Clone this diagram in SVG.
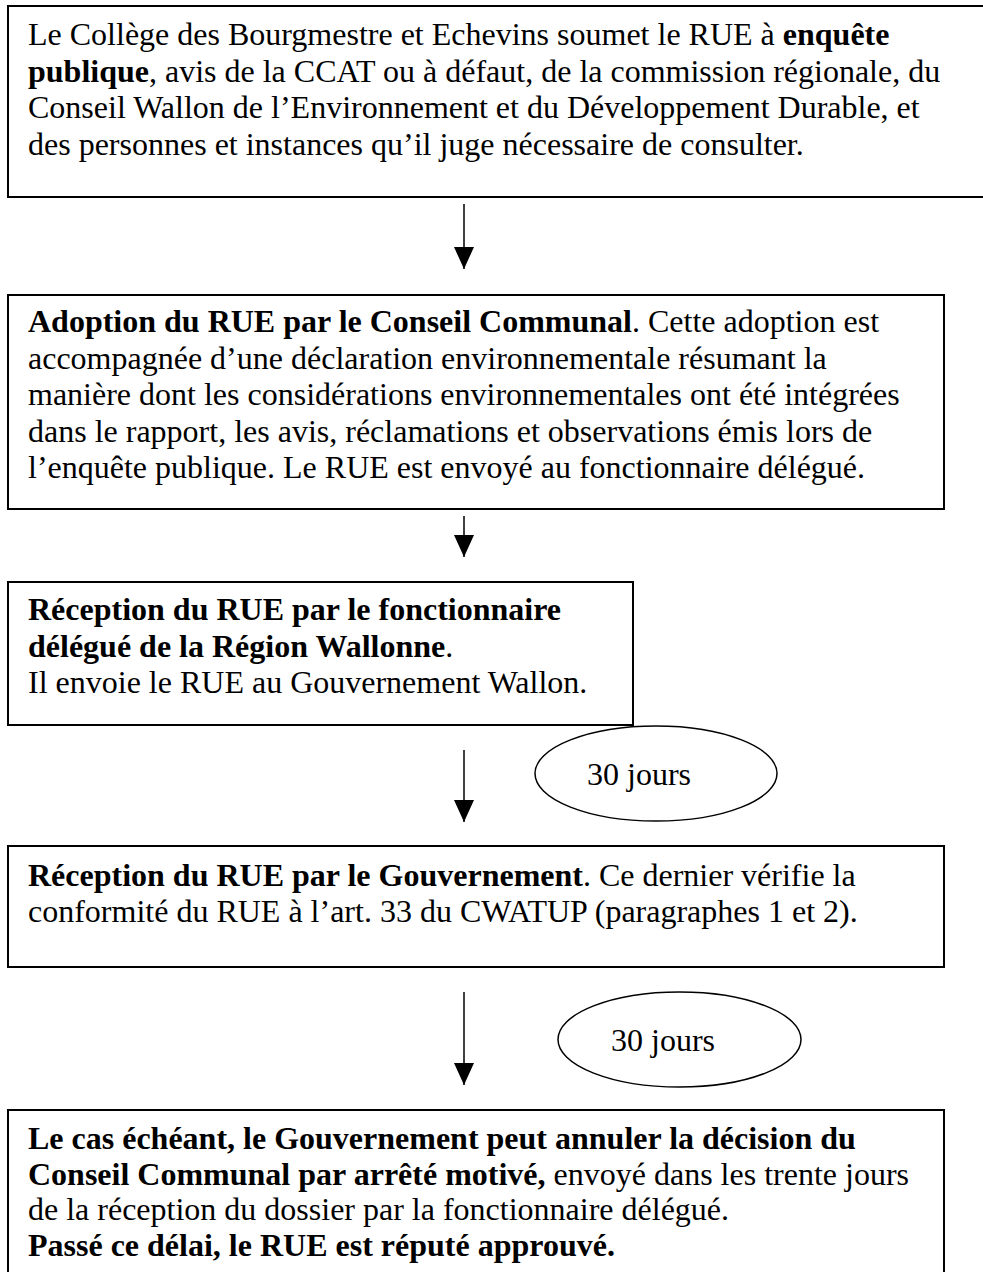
<svg xmlns="http://www.w3.org/2000/svg" width="983" height="1272" viewBox="0 0 983 1272">
<style>
.box{fill:#fff;stroke:#000;stroke-width:2}
.oval{fill:#fff;stroke:#000;stroke-width:1.5}
.t{font-family:"Liberation Serif","Times New Roman",serif;font-size:32px;fill:#000}
.b{font-weight:bold}
.c{stroke:#000;stroke-width:1.5;fill:none;marker-end:url(#ah)}
</style>
<defs>
<marker id="ah" markerUnits="userSpaceOnUse" markerWidth="22" markerHeight="20" refX="22" refY="10" orient="auto">
<path d="M0,0 L22,10 L0,20 z" fill="#000"/>
</marker>
</defs>
<rect width="983" height="1272" fill="#fff"/>
<g id="n1">
<rect class="box" x="8" y="6" width="990" height="191"/>
<text class="t" x="28" y="45">Le Collège des Bourgmestre et Echevins soumet le RUE à <tspan class="b">enquête</tspan></text>
<text class="t" x="28" y="82"><tspan class="b">publique</tspan>, avis de la CCAT ou à défaut, de la commission régionale, du</text>
<text class="t" x="28" y="118">Conseil Wallon de l’Environnement et du Développement Durable, et</text>
<text class="t" x="28" y="155">des personnes et instances qu’il juge nécessaire de consulter.</text>
</g>
<g id="n2">
<rect class="box" x="8" y="295" width="936" height="214"/>
<text class="t" x="28" y="332"><tspan class="b">Adoption du RUE par le Conseil Communal</tspan>. Cette adoption est</text>
<text class="t" x="28" y="368.5">accompagnée d’une déclaration environnementale résumant la</text>
<text class="t" x="28" y="405">manière dont les considérations environnementales ont été intégrées</text>
<text class="t" x="28" y="441.5">dans le rapport, les avis, réclamations et observations émis lors de</text>
<text class="t" x="28" y="478">l’enquête publique. Le RUE est envoyé au fonctionnaire délégué.</text>
</g>
<g id="n3">
<rect class="box" x="8" y="582" width="625" height="143"/>
<text class="t" x="28" y="620"><tspan class="b">Réception du RUE par le fonctionnaire</tspan></text>
<text class="t" x="28" y="657"><tspan class="b">délégué de la Région Wallonne</tspan>.</text>
<text class="t" x="28" y="693">Il envoie le RUE au Gouvernement Wallon.</text>
</g>
<g id="e1">
<ellipse class="oval" cx="656" cy="773.5" rx="121" ry="47.5"/>
<text class="t" x="587" y="785">30 jours</text>
</g>
<g id="n4">
<rect class="box" x="8" y="846" width="936" height="121"/>
<text class="t" x="28" y="886"><tspan class="b">Réception du RUE par le Gouvernement</tspan>. Ce dernier vérifie la</text>
<text class="t" x="28" y="922">conformité du RUE à l’art. 33 du CWATUP (paragraphes 1 et 2).</text>
</g>
<g id="e2">
<ellipse class="oval" cx="679.5" cy="1039.5" rx="121.5" ry="47.5"/>
<text class="t" x="611" y="1051">30 jours</text>
</g>
<g id="n5">
<rect class="box" x="8" y="1110" width="936" height="180"/>
<text class="t b" x="28" y="1149">Le cas échéant, le Gouvernement peut annuler la décision du</text>
<text class="t" x="28" y="1185"><tspan class="b">Conseil Communal par arrêté motivé,</tspan> envoyé dans les trente jours</text>
<text class="t" x="28" y="1220">de la réception du dossier par la fonctionnaire délégué.</text>
<text class="t b" x="28" y="1256">Passé ce délai, le RUE est réputé approuvé.</text>
</g>
<g id="connectors">
<line class="c" x1="464" y1="204" x2="464" y2="269"/>
<line class="c" x1="464" y1="516" x2="464" y2="557"/>
<line class="c" x1="464" y1="750" x2="464" y2="822"/>
<line class="c" x1="464" y1="992" x2="464" y2="1085"/>
</g>
</svg>
